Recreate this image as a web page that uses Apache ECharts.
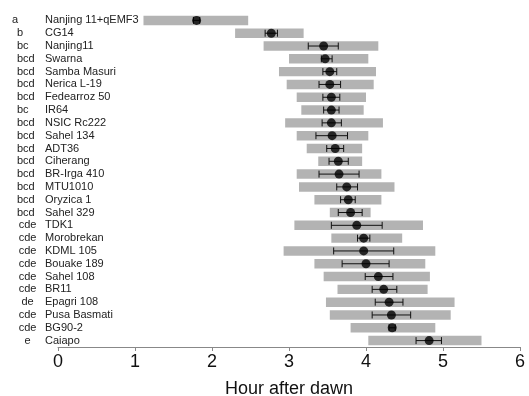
<!DOCTYPE html>
<html><head><meta charset="utf-8">
<script src="https://cdn.jsdelivr.net/npm/echarts@6/dist/echarts.min.js"></script>
<style>html,body{margin:0;padding:0;background:#fff}#c{width:529px;height:396px}</style>
</head><body><div id="c"></div>
<script>
const names = ['Nanjing 11+qEMF3','CG14','Nanjing11','Swarna','Samba Masuri','Nerica L-19','Fedearroz 50','IR64','NSIC Rc222','Sahel 134','ADT36','Ciherang','BR-Irga 410','MTU1010','Oryzica 1','Sahel 329','TDK1','Morobrekan','KDML 105','Bouake 189','Sahel 108','BR11','Epagri 108','Pusa Basmati','BG90-2','Caiapo'];
const letters = ['a','b','bc','bcd','bcd','bcd','bcd','bc','bcd','bcd','bcd','bcd','bcd','bcd','bcd','bcd','cde','cde','cde','cde','cde','cde','de','cde','cde','e'];
const rangeStart = [1.11,2.30,2.67,3.00,2.87,2.97,3.10,3.16,2.95,3.10,3.23,3.38,3.10,3.13,3.33,3.53,3.07,3.55,2.93,3.33,3.45,3.63,3.48,3.53,3.80,4.03];
const rangeEnd   = [2.47,3.19,4.16,4.03,4.13,4.10,4.00,3.97,4.22,4.03,3.95,3.95,4.20,4.37,4.20,4.06,4.74,4.47,4.90,4.77,4.83,4.80,5.15,5.10,4.90,5.50];
const meanVal    = [1.80,2.77,3.45,3.47,3.53,3.53,3.55,3.55,3.55,3.56,3.60,3.64,3.65,3.75,3.77,3.80,3.88,3.97,3.97,4.00,4.16,4.23,4.30,4.33,4.34,4.82];
const errLow     = [1.76,2.69,3.25,3.42,3.44,3.39,3.44,3.45,3.43,3.35,3.49,3.52,3.39,3.62,3.67,3.64,3.55,3.89,3.58,3.69,3.99,4.08,4.12,4.08,4.30,4.65];
const errHigh    = [1.84,2.85,3.64,3.56,3.62,3.67,3.66,3.65,3.68,3.76,3.71,3.77,3.91,3.89,3.86,3.95,4.21,4.05,4.36,4.30,4.35,4.40,4.48,4.58,4.38,4.98];
const xTicks = [0,1,2,3,4,5,6];

const chart = echarts.init(document.getElementById('c'));
const FONT = 'Liberation Sans, Arial, sans-serif';
function letterStyle(l){ if(l==='a') return 'A'; if(l[0]==='b') return 'B'; return 'R'; }

chart.setOption({
  animation:false,
  grid:{left:58,right:9,top:14,bottom:49,containLabel:false,outerBoundsMode:'none'},
  xAxis:{type:'value',min:xTicks[0],max:xTicks[xTicks.length-1],interval:1,
    name:'Hour after dawn',nameLocation:'middle',nameGap:33,
    nameTextStyle:{fontSize:18,color:'#111',fontFamily:FONT},
    axisLine:{show:true,lineStyle:{color:'#888',width:1}},
    axisTick:{show:true,length:4,lineStyle:{color:'#888'}},
    axisLabel:{fontSize:18,color:'#111',fontFamily:FONT,margin:6},
    splitLine:{show:false}},
  yAxis:{type:'category',inverse:true,data:names,
    axisLine:{show:false},axisTick:{show:false},
    axisLabel:{interval:0,align:'left',margin:46,fontFamily:FONT,fontSize:11,color:'#222',
      formatter:function(v,i){const l=letters[i];return '{'+letterStyle(l)+'|'+l+'}{n|'+v+'}';},
      rich:{
        A:{width:33,align:'left',fontSize:11,color:'#222',fontFamily:FONT},
        B:{width:28,align:'left',padding:[0,0,0,5],fontSize:11,color:'#222',fontFamily:FONT},
        R:{width:31,align:'right',padding:[0,2,0,0],fontSize:11,color:'#222',fontFamily:FONT},
        n:{fontSize:11,color:'#222',fontFamily:FONT}
      }},
    splitLine:{show:false}},
  series:[
    {type:'custom',name:'range',
      data:names.map((n,i)=>[rangeStart[i],rangeEnd[i],i]),
      encode:{x:[0,1],y:2},
      renderItem:function(params,api){
        const s=api.coord([api.value(0),api.value(2)]);
        const e=api.coord([api.value(1),api.value(2)]);
        const h=api.size([0,1])[1]*0.74;
        return {type:'rect',shape:{x:s[0],y:s[1]-h/2,width:e[0]-s[0],height:h},style:{fill:'#b3b3b3'}};
      }},
    {type:'custom',name:'err',
      data:names.map((n,i)=>[errLow[i],errHigh[i],i]),
      encode:{x:[0,1],y:2},
      renderItem:function(params,api){
        const s=api.coord([api.value(0),api.value(2)]);
        const e=api.coord([api.value(1),api.value(2)]);
        const c=3.5, st={stroke:'#111',lineWidth:1};
        return {type:'group',children:[
          {type:'line',shape:{x1:s[0],y1:s[1],x2:e[0],y2:e[1]},style:st},
          {type:'line',shape:{x1:s[0],y1:s[1]-c,x2:s[0],y2:s[1]+c},style:st},
          {type:'line',shape:{x1:e[0],y1:e[1]-c,x2:e[0],y2:e[1]+c},style:st}
        ]};
      }},
    {type:'scatter',name:'mean',data:names.map((n,i)=>[meanVal[i],i]),
      symbol:'circle',symbolSize:9,itemStyle:{color:'#000'}}
  ]
});
</script></body></html>
